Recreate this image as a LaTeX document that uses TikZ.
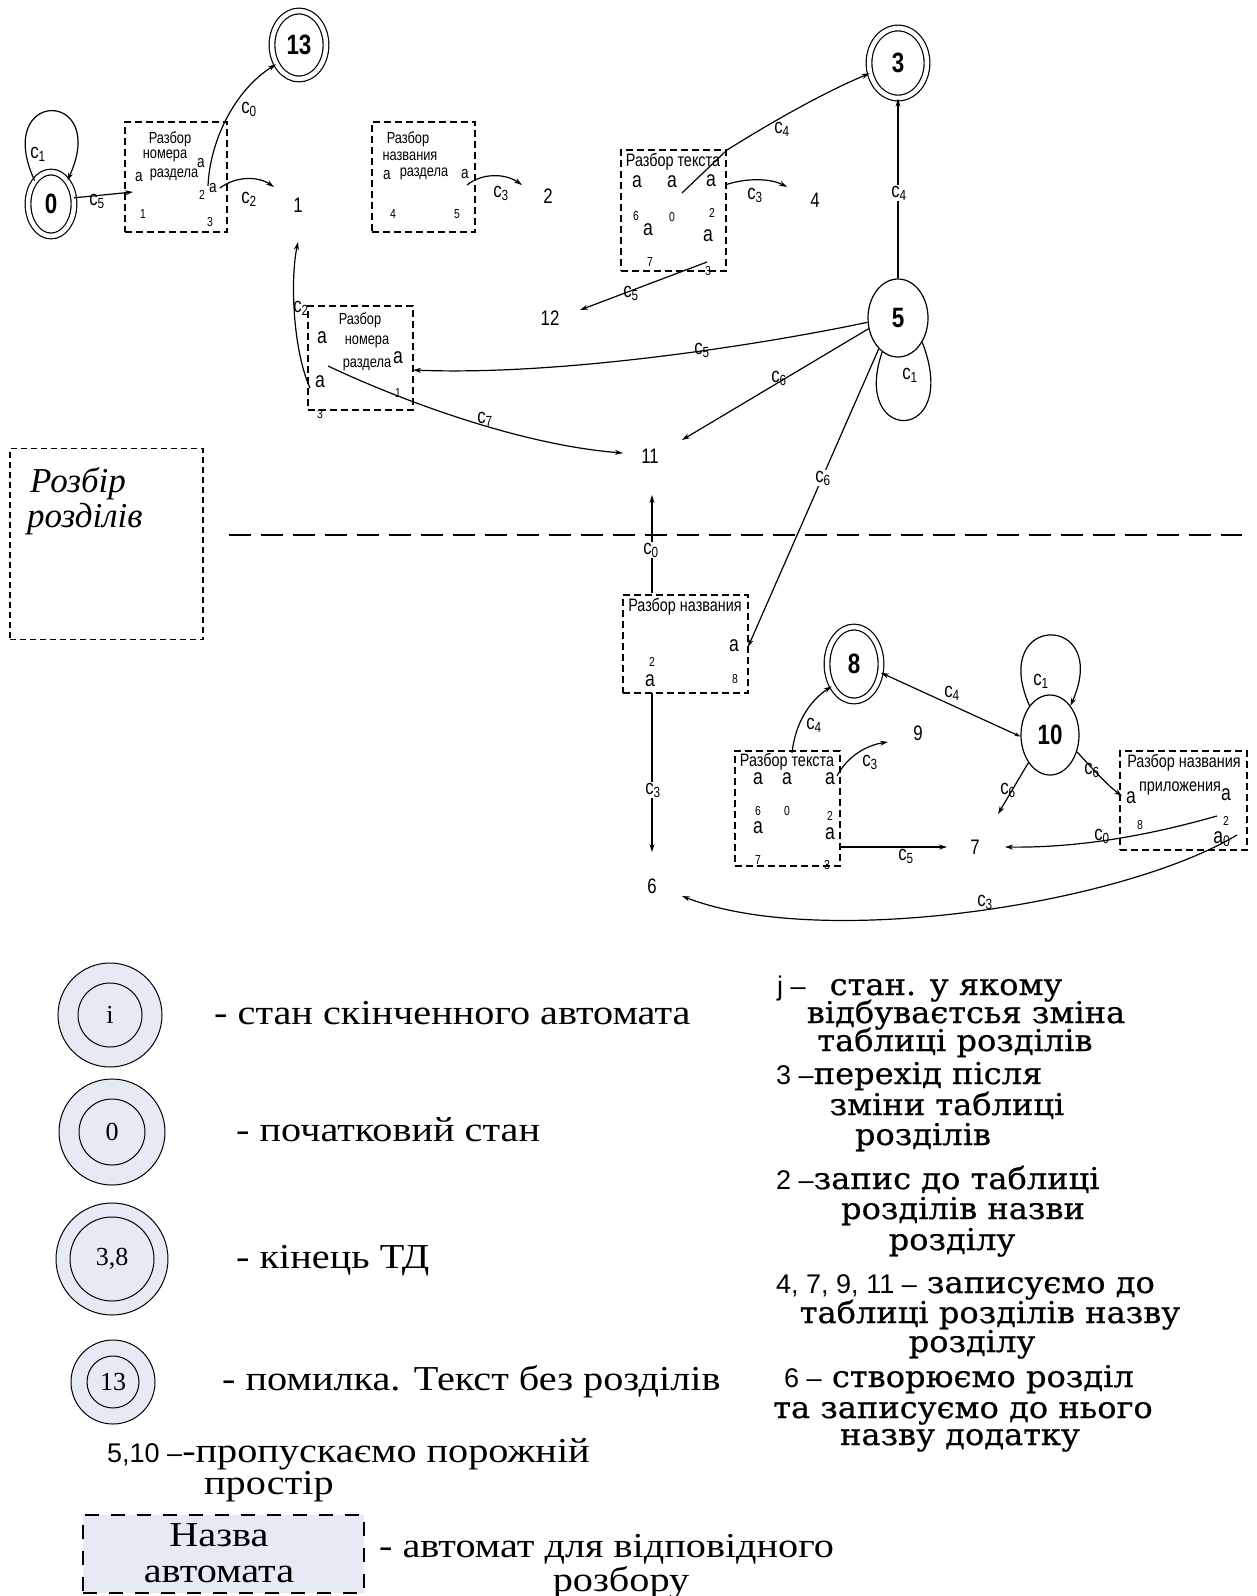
\documentclass[tikz,border=0pt]{standalone}
\usepackage{fontspec}
\setmainfont{Liberation Serif}
\setsansfont{Liberation Sans}
\newfontfamily\dvserif[FakeStretch=1.07,FakeBold=0.6]{DejaVu Serif}
\newfontfamily\legserif[FakeStretch=1.15]{Liberation Serif}
\newfontfamily\nsans[FakeStretch=0.8]{Liberation Sans}
\usetikzlibrary{shapes.geometric,arrows.meta}
\definecolor{legfill}{HTML}{E5EAF5}
\newcommand\FState{\nsans\bfseries\fontsize{28}{28}\selectfont}
\newcommand\FNum{\nsans\fontsize{21}{21}\selectfont}
\newcommand\FBox{\nsans\fontsize{18}{18}\selectfont}
\newcommand\FBoxS{\nsans\fontsize{16}{16}\selectfont}
\newcommand\FA{\nsans\fontsize{22}{22}\selectfont}
\newcommand\FAs{\nsans\fontsize{17}{17}\selectfont}
\newcommand\FSm{\nsans\fontsize{13}{13}\selectfont}
\newcommand\FLab{\nsans\fontsize{21}{21}\selectfont}
\newcommand\FItal{\rmfamily\itshape\fontsize{35}{35}\selectfont}
\newcommand\FLegL{\legserif\fontsize{35}{35}\selectfont}
\newcommand\FLegR{\dvserif\fontsize{30}{30}\selectfont}
\newcommand\FLegS{\sffamily\fontsize{27}{27}\selectfont}
\newcommand\FLegC{\rmfamily\fontsize{26}{26}\selectfont}
\tikzset{
  st/.style={ellipse, draw, line width=1.2pt, inner sep=0pt, font=\FState},
  dst/.style={st, double, double distance=4.5pt},
  num/.style={inner sep=0pt, font=\FNum},
  bx/.style={draw, line width=1.5pt, dash pattern=on 7pt off 4pt, inner sep=0pt},
  bt/.style={inner sep=0pt, font=\FBox},
  bts/.style={inner sep=0pt, font=\FBoxS},
  la/.style={inner sep=0pt, font=\FA},
  las/.style={inner sep=0pt, font=\FAs},
  sm/.style={inner sep=0pt, font=\FSm},
  lab/.style={inner sep=0pt, font=\FLab},
  labw/.style={lab, fill=white, inner sep=1pt},
  ln/.style={line width=1.2pt},
  arr/.style={ln, -{Stealth[length=8pt,width=5pt]}},
  legc/.style={circle, draw, line width=1pt, fill=legfill, inner sep=0pt},
  legl/.style={inner sep=0pt, anchor=base west, font=\FLegL},
  legr/.style={inner sep=0pt, anchor=base, font=\FLegR},
  legra/.style={legr, anchor=base west},
}
\begin{document}
\begin{tikzpicture}[x=1pt,y=-1pt]
\useasboundingbox (0,0) rectangle (1256,1596);
\fill[white] (0,0) rectangle (1256,1596);

% ---------- states ----------
\node[dst, minimum width=46pt, minimum height=64pt] (s0) at (51,204) {0};
\node[dst, minimum width=54pt, minimum height=68pt] (s13) at (299,45) {13};
\node[dst, minimum width=58pt, minimum height=70pt] (s3) at (898,63) {3};
\node[st, minimum width=60pt, minimum height=78pt] (s5) at (898,318) {5};
\node[dst, minimum width=54pt, minimum height=74pt] (s8) at (854,664) {8};
\node[st, minimum width=58pt, minimum height=80pt] (s10) at (1050,735) {10};

% ---------- plain numbers ----------
\node[num] (n1) at (298,205) {1};
\node[num] (n2) at (548,196) {2};
\node[num] (n4) at (815,200) {4};
\node[num] (n12) at (550,318) {12};
\node[num] (n11) at (650,456) {11};
\node[num] (n9) at (918,733) {9};
\node[num] (n7) at (975,847) {7};
\node[num] (n6) at (652,886) {6};

% ---------- boxes ----------
\node[bx, minimum width=102pt, minimum height=110pt] (B1) at (176,177) {};
\node[bx, minimum width=103pt, minimum height=110pt] (B2) at (423.5,177) {};
\node[bx, minimum width=105pt, minimum height=121pt] (B3) at (673.5,210.5) {};
\node[bx, minimum width=105pt, minimum height=104pt] (B4) at (360.5,358) {};
\node[bx, minimum width=125pt, minimum height=98pt] (B5) at (685.5,644) {};
\node[bx, minimum width=105pt, minimum height=115pt] (B6) at (787.5,808.5) {};
\node[bx, minimum width=127pt, minimum height=99pt] (B7) at (1183.5,800.5) {};

% B1 content
\node[bts] (b1t1) at (170,139) {Разбор};
\node[bts] (b1t2) at (165,156) {номера};
\node[las] (b1a1) at (201,163) {a};
\node[bts] (b1t3) at (174,175) {раздела};
\node[las] (b1a2) at (139,177) {a};
\node[sm] (b1n2) at (202,195) {2};
\node[las] (b1a3) at (213,188) {a};
\node[sm] (b1n1) at (143,214) {1};
\node[sm] (b1n3) at (210,222) {3};
% B2 content
\node[bts] (b2t1) at (408,139) {Разбор};
\node[bts] (b2t2) at (410,156) {названия};
\node[las] (b2a1) at (387,175) {a};
\node[bts] (b2t3) at (424,174) {раздела};
\node[las] (b2a2) at (465,174) {a};
\node[sm] (b2n4) at (393,214) {4};
\node[sm] (b2n5) at (457,214) {5};
% B3 content
\node[bt] (b3t) at (673,162) {Разбор текста};
\node[la] (b3a1) at (637,182) {a};
\node[la] (b3a2) at (672,182) {a};
\node[la] (b3a3) at (711,181) {a};
\node[sm] (b3n6) at (636,216) {6};
\node[sm] (b3n0) at (672,217) {0};
\node[sm] (b3n2) at (712,213) {2};
\node[la] (b3a4) at (648,230) {a};
\node[la] (b3a5) at (708,236) {a};
\node[sm] (b3n7) at (650,262) {7};
\node[sm] (b3n3) at (708,271) {3};
% B4 content
\node[bts] (b4t1) at (360,320) {Разбор};
\node[bts] (b4t2) at (367,342) {номера};
\node[bts] (b4t3) at (367,365) {раздела};
\node[la] (b4a1) at (322,338) {a};
\node[la] (b4a2) at (320,382) {a};
\node[la] (b4a3) at (398,358) {a};
\node[sm] (b4n1) at (398,393) {1};
\node[sm] (b4n3) at (320,414) {3};
% B5 content
\node[bt] (b5t) at (685,607) {Разбор названия};
\node[la] (b5a1) at (734,646) {a};
\node[sm] (b5n2) at (652,662) {2};
\node[la] (b5a2) at (650,681) {a};
\node[sm] (b5n8) at (735,679) {8};
% B6 content
\node[bt] (b6t) at (787,762) {Разбор текста};
\node[la] (b6a1) at (758,779) {a};
\node[la] (b6a2) at (787,779) {a};
\node[la] (b6a3) at (830,779) {a};
\node[sm] (b6n6) at (758,811) {6};
\node[sm] (b6n0) at (787,811) {0};
\node[sm] (b6n2) at (830,816) {2};
\node[la] (b6a4) at (758,828) {a};
\node[la] (b6a5) at (830,834) {a};
\node[sm] (b6n7) at (758,860) {7};
\node[sm] (b6n3) at (827,865) {3};
% B7 content
\node[bt] (b7t) at (1184,763) {Разбор названия};
\node[bt] (b7t2) at (1180,789) {приложения};
\node[la] (b7a1) at (1131,798) {a};
\node[la] (b7a2) at (1226,795) {a};
\node[sm] (b7n8) at (1140,825) {8};
\node[sm] (b7n2) at (1226,821) {2};
\node[la] (b7a3) at (1222,839) {a\textsubscript{0}};

% ---------- ports ----------
\coordinate (p1) at (133,192);
\coordinate (p2) at (208,186);
\coordinate (p3) at (220,188);
\coordinate (p4) at (274,187);
\coordinate (p5) at (310,388);
\coordinate (p6) at (298,242);
\coordinate (p7) at (467,185);
\coordinate (p8) at (522,185);
\coordinate (p9) at (682,193);
\coordinate (p10) at (727,150);
\coordinate (p11) at (725,185);
\coordinate (p12) at (787,187);
\coordinate (p13) at (707,262);
\coordinate (p14) at (580,310);
\coordinate (p15) at (413,370);
\coordinate (p16) at (682,440);
\coordinate (p17) at (748,647);
\coordinate (p18) at (652,593);
\coordinate (p19) at (652,495);
\coordinate (p20) at (328,366);
\coordinate (p21) at (623,453);
\coordinate (p22) at (652,693);
\coordinate (p23) at (652,852);
\coordinate (p24) at (792,753);
\coordinate (p25) at (837,776);
\coordinate (p26) at (888,742);
\coordinate (p27) at (840,847);
\coordinate (p28) at (947,847);
\coordinate (p29) at (998,814);
\coordinate (p30) at (1122,796);
\coordinate (p31) at (1217,816);
\coordinate (p32) at (1005,847);
\coordinate (p33) at (1237,835);
\coordinate (p34) at (682,896);

% ---------- connectors ----------
\draw[arr] (s0.125) .. controls (-8,88) and (110,88) .. (s0.55);
\draw[arr] (s0.15) -- (p1);
\draw[arr] (p2) .. controls (210,140) and (235,90) .. (s13.220);
\draw[arr] (p3) .. controls (236,176) and (258,176) .. (p4);
\draw[arr] (p5) .. controls (293,350) and (290,280) .. (p6);
\draw[arr] (p7) .. controls (482,173) and (505,173) .. (p8);
\draw[arr] (p9) -- (p10) .. controls (775,120) and (825,92) .. (s3.200);
\draw[arr] (p11) .. controls (745,178) and (770,178) .. (p12);
\draw[arr] (p13) -- (p14);
\draw[arr] (s5.north) -- (s3.south);
\draw[arr] (s5.188) .. controls (760,345) and (560,376) .. (p15);
\draw[arr] (s5.200) -- (p16);
\draw[arr] (s5.238) -- (p17);
\draw[ln] (s5.245) .. controls (850,445) and (962,445) .. (s5.-45);
\draw[arr] (p18) -- (p19);
\draw[arr] (p20) .. controls (400,400) and (520,445) .. (p21);
\draw[arr] (p22) -- (p23);
\draw[arr] (p24) .. controls (795,725) and (808,702) .. (s8.225);
\draw[arr] (p25) .. controls (848,755) and (868,745) .. (p26);
\draw[arr] (p27) -- (p28);
\draw[ln, {Stealth[length=6pt,width=4pt]}-{Stealth[length=8pt,width=5pt]}] (s10.183) -- (s8.-18);
\draw[arr] (s10.125) .. controls (988,612) and (1112,612) .. (s10.55);
\draw[arr] (s10.232) -- (p29);
\draw[arr] (s10.-32) .. controls (1092,768) and (1106,784) .. (p30);
\draw[arr] (p31) .. controls (1150,835) and (1080,848) .. (p32);
\draw[arr] (p33) .. controls (1120,905) and (820,950) .. (p34);

% ---------- edge labels ----------
\node[lab] (l1) at (38,154) {c\textsubscript{1}};
\node[lab] (l2) at (97,201) {c\textsubscript{5}};
\node[lab] (l3) at (249,109) {c\textsubscript{0}};
\node[lab] (l4) at (249,199) {c\textsubscript{2}};
\node[lab] (l5) at (501,193) {c\textsubscript{3}};
\node[lab] (l6) at (782,129) {c\textsubscript{4}};
\node[lab] (l7) at (755,195) {c\textsubscript{3}};
\node[lab] (l8) at (631,293) {c\textsubscript{5}};
\node[labw] (l9) at (899,193) {c\textsubscript{4}};
\node[lab] (l10) at (301,308) {c\textsubscript{2}};
\node[lab] (l11) at (702,350) {c\textsubscript{5}};
\node[lab] (l12) at (779,378) {c\textsubscript{6}};
\node[lab] (l13) at (910,375) {c\textsubscript{1}};
\node[lab] (l14) at (485,419) {c\textsubscript{7}};
\node[labw] (l15) at (823,478) {c\textsubscript{6}};
\node[labw] (l16) at (651,550) {c\textsubscript{0}};
\node[labw] (l17) at (653,790) {c\textsubscript{3}};
\node[lab] (l18) at (814,725) {c\textsubscript{4}};
\node[lab] (l19) at (870,762) {c\textsubscript{3}};
\node[lab] (l20) at (906,856) {c\textsubscript{5}};
\node[lab] (l21) at (952,693) {c\textsubscript{4}};
\node[lab] (l22) at (1041,681) {c\textsubscript{1}};
\node[lab] (l23) at (1008,790) {c\textsubscript{6}};
\node[lab] (l24) at (1092,770) {c\textsubscript{6}};
\node[lab] (l25) at (1102,836) {c\textsubscript{0}};
\node[lab] (l26) at (985,902) {c\textsubscript{3}};

% ---------- separator and side box ----------
\coordinate (sepL) at (229,535);
\coordinate (sepR) at (1242,535);
\draw[line width=2.5pt, dash pattern=on 22pt off 10pt] (sepL) -- (sepR);
\node[draw, line width=1.5pt, dash pattern=on 6pt off 4pt, minimum width=193pt, minimum height=191pt, inner sep=0pt] (rbox) at (106.5,544) {};
\node[anchor=base west, inner sep=0pt, font=\FItal] (rt1) at (30,492) {Розбір};
\node[anchor=base west, inner sep=0pt, font=\FItal] (rt2) at (27,527) {розділів};

% ---------- legend left ----------
\node[legc, minimum size=104pt] (Lio) at (110,1015) {};
\node[legc, minimum size=64pt, font=\FLegC] (Lii) at (110,1015) {i};
\node[legc, minimum size=106pt] (L0o) at (112,1132) {};
\node[legc, minimum size=66pt, font=\FLegC] (L0i) at (112,1132) {0};
\node[legc, minimum size=112pt] (L38o) at (112,1259) {};
\node[legc, minimum size=84pt, font=\FLegC] (L38i) at (112,1259) {3,8};
\node[legc, minimum size=84pt] (L13o) at (113,1382) {};
\node[legc, minimum size=52pt, font=\FLegC] (L13i) at (113,1382) {13};

\node[legl] (Lt1) at (214,1024) {- стан скінченного автомата};
\node[legl] (Lt2) at (236,1141) {- початковий стан};
\node[legl] (Lt3) at (236,1268) {- кінець ТД};
\node[legl] (Lt4) at (222,1390) {- помилка. Текст без розділів};
\node[legl] (Lt5) at (107,1462) {{\FLegS 5,10 –}-пропускаємо порожній};
\node[legl] (Lt6) at (204,1494) {простір};

\node[draw, line width=2.5pt, dash pattern=on 14pt off 12pt, fill=legfill, minimum width=281pt, minimum height=78pt, inner sep=0pt] (Lbox) at (223.5,1554) {};
\node[inner sep=0pt, anchor=base, font=\FLegL] (Lb1) at (219,1546) {Назва};
\node[inner sep=0pt, anchor=base, font=\FLegL] (Lb2) at (219,1582) {автомата};
\node[legl] (Lt7) at (379,1557) {-\hspace{10pt}автомат для відповідного};
\node[inner sep=0pt, anchor=base, font=\FLegL] (Lt8) at (621,1591) {розбору};

% ---------- legend right ----------
\node[legra] (R1) at (777,995) {{\FLegS j –}\hspace{24pt}стан. у якому};
\node[legr] (R2) at (966,1023) {відбуваєтсья зміна};
\node[legr] (R3) at (955,1051) {таблиці розділів};
\node[legra] (R4) at (776,1084) {{\FLegS 3 –}перехід після};
\node[legr] (R5) at (947,1115) {зміни таблиці};
\node[legr] (R6) at (923,1145) {розділів};
\node[legra] (R7) at (776,1189) {{\FLegS 2 –}запис до таблиці};
\node[legr] (R8) at (963,1219) {розділів назви};
\node[legr] (R9) at (952,1250) {розділу};
\node[legra] (R10) at (776,1293) {{\FLegS 4, 7, 9, 11 –} записуємо до};
\node[legr] (R11) at (990,1323) {таблиці розділів назву};
\node[legr] (R12) at (972,1352) {розділу};
\node[legra] (R13) at (784,1387) {{\FLegS 6 –} створюємо розділ};
\node[legr] (R14) at (963,1418) {та записуємо до нього};
\node[legr] (R15) at (960,1445) {назву додатку};
\end{tikzpicture}
\end{document}
